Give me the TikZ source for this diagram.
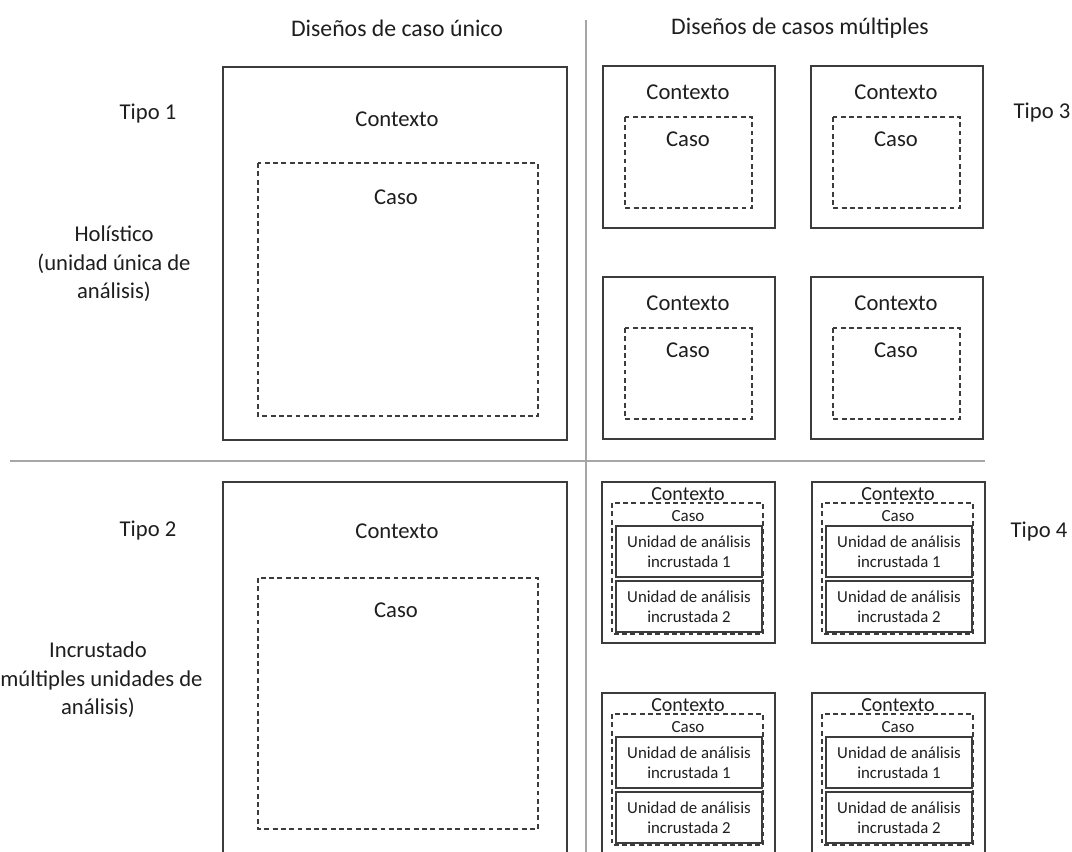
\documentclass[tikz,border=0pt]{standalone}
\usepackage{fontspec}
\setmainfont{Carlito}
\usepackage{xcolor}
\definecolor{lineclr}{HTML}{3C3C3C}
\definecolor{divclr}{HTML}{A6A6A6}
\definecolor{txtclr}{HTML}{1E1E1E}

\begin{document}
\begin{tikzpicture}[x=0.53pt, y=-0.53pt,
  ctxbox/.style={draw=lineclr, line width=0.9pt},
  casobox/.style={draw=lineclr, line width=0.75pt, dash pattern=on 2.6pt off 1.8pt},
  unitbox/.style={draw=lineclr, line width=0.85pt},
  divider/.style={draw=divclr, line width=0.8pt},
  lbl/.style={text=txtclr, inner sep=0pt, align=center, font=\fontsize{12}{15.2}\selectfont},
  head/.style={lbl, font=\fontsize{12.6}{15}\selectfont},
  smallctx/.style={lbl, font=\fontsize{10.6}{12}\selectfont},
  smallcaso/.style={lbl, font=\fontsize{9}{10.6}\selectfont},
  unitlbl/.style={lbl, font=\fontsize{8.9}{10.6}\selectfont}]

\useasboundingbox (0,0) rectangle (1072,852);
\clip (0,0) rectangle (1072,852);

\draw[divider] (586,20) -- (586,860);
\draw[divider] (10,461) -- (985,461);

\node[head] (headU) at (397,28) {Diseños de caso único};
\node[head] (headM) at (800,28) {Diseños de casos múltiples};

\node[lbl] (tipo1) at (148,114) {Tipo 1};
\node[lbl] (tipo2) at (148,531) {Tipo 2};
\node[lbl] (tipo3) at (1042,113) {Tipo 3};
\node[lbl] (tipo4) at (1039,532) {Tipo 4};

\node[lbl] (holis) at (114,264) {Holístico\\(unidad única de\\análisis)};
\node[lbl] (incru) at (98,680) {Incrustado\\(múltiples unidades de\\análisis)};

% tipo 1
\draw[ctxbox] (223,67) rectangle (567,440);
\draw[casobox] (258,163) rectangle (538,416);
\node[lbl] (ctxA) at (397,119) {Contexto};
\node[lbl] (casoA) at (396,197) {Caso};

% tipo 2
\draw[ctxbox] (223,482) rectangle (567,880);
\draw[casobox] (258,578) rectangle (538,829);
\node[lbl] (ctxB) at (397,531) {Contexto};
\node[lbl] (casoB) at (396,610) {Caso};

% tipo 3
\foreach \dx/\dy [count=\k] in {0/0, 208/0, 0/211, 208/211}{
\begin{scope}[shift={(\dx,\dy)}]
  \draw[ctxbox] (603,66) rectangle (775,228);
  \draw[casobox] (625,117) rectangle (752,208);
  \node[lbl] (ctx3\k) at (688,92) {Contexto};
  \node[lbl] (caso3\k) at (688,139) {Caso};
\end{scope}
}

% tipo 4
\foreach \dx/\dy [count=\k] in {0/0, 210/0, 0/211, 210/211}{
\begin{scope}[shift={(\dx,\dy)}]
  \draw[ctxbox] (602,482) rectangle (775,643);
  \draw[casobox] (612,503) rectangle (763,634);
  \node[smallctx] (ctx4\k) at (688,494) {Contexto};
  \node[smallcaso] (caso4\k) at (688,516) {Caso};
  \draw[unitbox] (616,526) rectangle (762,577);
  \draw[unitbox] (616,581) rectangle (762,632);
  \node[unitlbl] (unitA\k) at (689,552) {Unidad de análisis\\incrustada 1};
  \node[unitlbl] (unitB\k) at (689,607) {Unidad de análisis\\incrustada 2};
\end{scope}
}
\end{tikzpicture}
\end{document}
